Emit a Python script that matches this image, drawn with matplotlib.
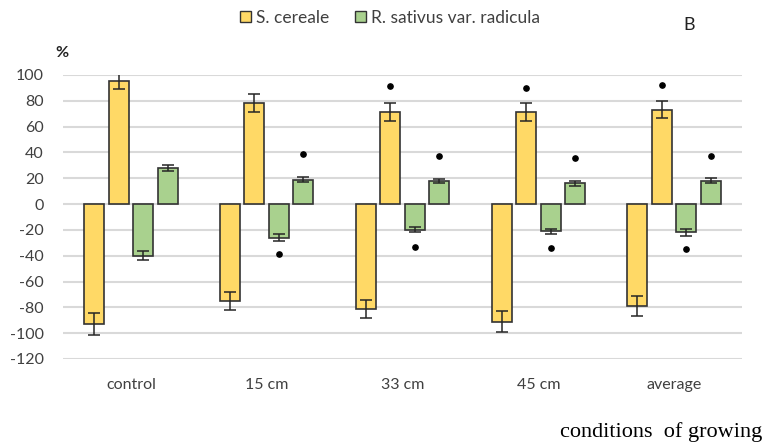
import numpy as np
import matplotlib
matplotlib.use("Agg")
import matplotlib.pyplot as plt
from matplotlib.patches import Patch

categories = ["control", "15 cm", "33 cm", "45 cm", "average"]
series_names = ["S. cereale", "R. sativus var. radicula"]

s_neg = [-93, -75, -81, -91, -79]
s_neg_err = [8.5, 7, 7, 8, 7.5]
s_pos = [95, 78, 71, 71, 73]
s_pos_err = [6, 7, 7, 7, 6.5]
r_neg = [-40, -26, -20, -21, -22]
r_neg_err = [3.5, 2.5, 2, 2, 2.5]
r_pos = [28, 19, 18, 16, 18]
r_pos_err = [2, 2, 1.5, 2, 2]

sig_s_pos = [np.nan, np.nan, 91.5, 90, 92]
sig_r_neg = [np.nan, -39, -33, -34, -35]
sig_r_pos = [np.nan, 39, 37, 36, 37]

yticks = [100, 80, 60, 40, 20, 0, -20, -40, -60, -80, -100, -120]

yellow = "#FFD966"
green = "#A9D18E"
edge = "#333333"
txt = "#404040"

plt.rcParams["font.family"] = ["Lato", "DejaVu Sans"]

fig = plt.figure(figsize=(7.64, 4.46), dpi=100)
ax = fig.add_axes([63/764, 1-359/446, 679/764, (359-75)/446])

x = np.arange(len(categories))
w = 0.147
offs = [-0.27, -0.09, 0.09, 0.27]
data = [(s_neg, s_neg_err, yellow), (s_pos, s_pos_err, yellow),
        (r_neg, r_neg_err, green), (r_pos, r_pos_err, green)]
for o, (vals, errs, col) in zip(offs, data):
    ax.bar(x + o, vals, width=w, color=col, edgecolor=edge, linewidth=1.2, zorder=3)
    ax.errorbar(x + o, vals, yerr=errs, fmt="none", ecolor="#262626",
                elinewidth=1.1, capsize=4.5, capthick=1.1, zorder=4)

for o, sig in zip([offs[1], offs[2], offs[3]], [sig_s_pos, sig_r_neg, sig_r_pos]):
    ax.plot(x + o, sig, "o", color="black", markersize=3.8, zorder=5, linestyle="none")

ax.set_xlim(-0.5, len(categories) - 0.5)
ax.set_ylim(-120, 100)
ax.set_yticks(yticks)
ax.set_yticklabels([str(t) for t in yticks], fontsize=11.5, color=txt)
ax.set_xticks(x)
ax.set_xticklabels(categories, fontsize=11.5, color=txt)
ax.tick_params(axis="both", length=0)
ax.tick_params(axis="y", pad=14)
ax.tick_params(axis="x", pad=14)
ax.grid(axis="y", color="#D9D9D9", linewidth=1.5, zorder=0)
ax.set_axisbelow(True)
for s in ax.spines.values():
    s.set_visible(False)

fig.text(55/764, 1-53/446, "%", fontsize=11.5, color="#222222", fontweight="bold",
         va="center", ha="left")
fig.text(683/764, 1-25/446, "B", fontsize=13, color="#222222", va="center", ha="left")
fig.text(762/764, 1-432/446, "conditions  of growing", fontsize=16,
         family=["Liberation Serif"], color="black", ha="right", va="center")

handles = [Patch(facecolor=yellow, edgecolor=edge, linewidth=1),
           Patch(facecolor=green, edgecolor=edge, linewidth=1)]
fig.legend(handles, series_names, loc="center", bbox_to_anchor=(390/764, 1-18/446),
           ncol=2, frameon=False, fontsize=12.5, handlelength=0.6, handleheight=0.6,
           handletextpad=0.3, columnspacing=1.5, labelcolor=txt)

fig.savefig("out.png", dpi=100)
